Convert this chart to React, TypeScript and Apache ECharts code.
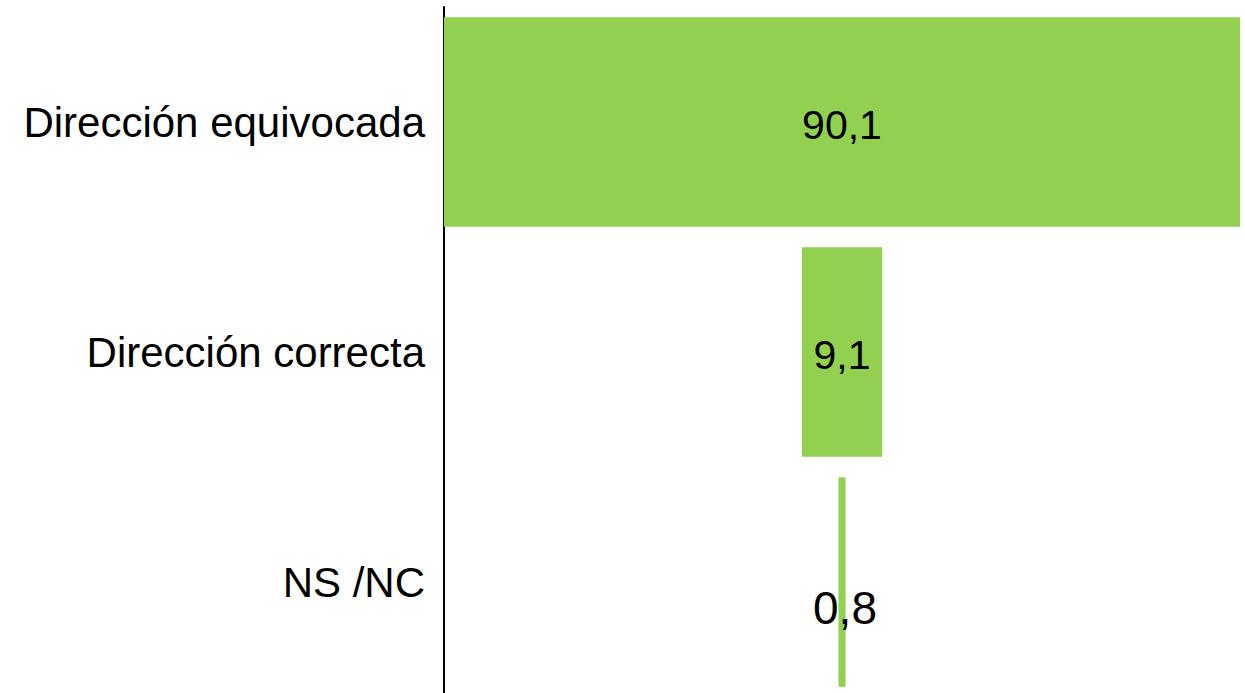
import React, { useEffect, useRef } from "react";
import * as echarts from "echarts";

const categories = ["Dirección equivocada", "Dirección correcta", "NS /NC"];
const values = [90.1, 9.1, 0.8];
const maxValue = 90.1;

export default function App() {
  const ref = useRef<HTMLDivElement>(null);
  useEffect(() => {
    if (!ref.current) return;
    const chart = echarts.init(ref.current, null, { renderer: "svg" });
    const offsets = values.map((v) => (maxValue - v) / 2);
    chart.setOption({
      animation: false,
      grid: { left: 444, right: 5, top: 7, height: 690, outerBoundsMode: "none", containLabel: false },
      xAxis: {
        type: "value",
        min: 0,
        max: maxValue,
        show: false,
      },
      yAxis: {
        type: "category",
        data: categories,
        inverse: true,
        axisLine: { show: true, lineStyle: { color: "#000", width: 2 } },
        axisTick: { show: false },
        axisLabel: {
          color: "#000",
          fontSize: 42,
          fontFamily: "Liberation Sans, Arial, sans-serif",
          margin: 19,
          padding: [8, 0, 0, 0],
        },
      },
      series: [
        {
          type: "bar",
          stack: "s",
          data: offsets,
          itemStyle: { color: "transparent" },
          barCategoryGap: "9%",
          silent: true,
        },
        {
          type: "bar",
          stack: "s",
          barCategoryGap: "9%",
          itemStyle: { color: "#92D050" },
          data: values.map((v, i) =>
            i === 2
              ? {
                  value: v,
                  label: { fontSize: 46, offset: [3, 26] },
                }
              : { value: v }
          ),
          label: {
            show: true,
            position: "inside",
            offset: [0, 3],
            color: "#000",
            fontSize: 41,
            fontFamily: "Liberation Sans, Arial, sans-serif",
            formatter: (p: any) => String(p.value).replace(".", ","),
          },
        },
      ],
    });
    return () => chart.dispose();
  }, []);
  return (
    <div
      ref={ref}
      style={{ position: "fixed", left: 0, top: 0, width: 1245, height: 693, background: "#fff" }}
    />
  );
}
